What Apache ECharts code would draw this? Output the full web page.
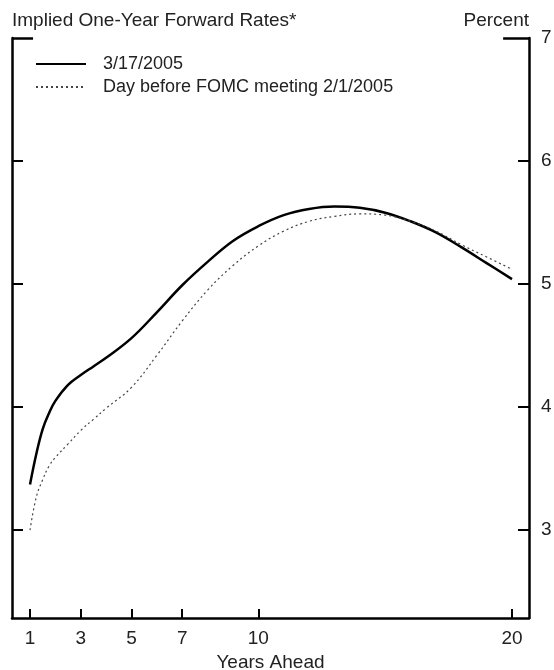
<!DOCTYPE html>
<html>
<head>
<meta charset="utf-8">
<script src="https://cdn.jsdelivr.net/npm/echarts@6/dist/echarts.min.js"></script>
<style>
html,body{margin:0;padding:0;background:#fff;}
#chart{width:554px;height:670px;}
</style>
</head>
<body>
<div id="chart"></div>
<script>
const years = [1, 1.25, 1.5, 1.75, 2, 2.5, 3, 3.5, 4, 5, 6, 7, 8, 9, 10, 11, 12, 13, 14, 15, 16, 17, 18, 19, 20];
const rates20050317 = [3.37, 3.62, 3.82, 3.95, 4.05, 4.18, 4.26, 4.33, 4.40, 4.56, 4.77, 4.99, 5.18, 5.35, 5.47, 5.56, 5.61, 5.63, 5.62, 5.58, 5.51, 5.42, 5.30, 5.17, 5.04];
const rates20050201 = [3.00, 3.27, 3.41, 3.52, 3.59, 3.70, 3.81, 3.90, 3.99, 4.16, 4.42, 4.70, 4.95, 5.15, 5.31, 5.43, 5.51, 5.55, 5.57, 5.56, 5.51, 5.43, 5.32, 5.22, 5.12];
const xTickLabels = [1, 3, 5, 7, 10, 20];
const yTickLabels = [3, 4, 5, 6, 7];
const seriesNames = ['3/17/2005', 'Day before FOMC meeting 2/1/2005'];

const xMin = 0.29, xMax = 20.67, yMin = 2.285, yMax = 7;
const font = '"Liberation Sans", Arial, Helvetica, sans-serif';
const txt = '#222';

const pairs = (xs, ys) => xs.map((x, i) => [x, ys[i]]);

const chart = echarts.init(document.getElementById('chart'), null, {renderer: 'canvas'});
chart.setOption({
  animation: false,
  backgroundColor: '#fff',
  textStyle: {fontFamily: font},
  title: [
    {text: 'Implied One-Year Forward Rates*', left: 7, top: 6,
     textStyle: {fontFamily: font, fontSize: 19, fontWeight: 'normal', color: txt}},
    {text: 'Percent', right: 20, top: 6,
     textStyle: {fontFamily: font, fontSize: 19, fontWeight: 'normal', color: txt}}
  ],
  legend: {
    left: 30, top: 50, orient: 'vertical',
    itemWidth: 50, itemHeight: 14, itemGap: 5,
    itemStyle: {opacity: 0},
    textStyle: {fontFamily: font, fontSize: 18, color: txt, padding: [0, 0, 0, 12]},
    data: seriesNames
  },
  grid: {left: 12, right: 25, top: 38, bottom: 52, containLabel: false, outerBoundsMode: 'none'},
  xAxis: {
    type: 'value', min: xMin, max: xMax,
    name: 'Years Ahead', nameLocation: 'middle', nameGap: 34,
    nameTextStyle: {fontFamily: font, fontSize: 19, color: txt},
    axisLine: {show: true, lineStyle: {color: '#000', width: 2.5}},
    axisTick: {show: true, inside: true, length: 9, lineStyle: {color: '#000', width: 2}, customValues: xTickLabels},
    axisLabel: {show: true, fontFamily: font, fontSize: 19, color: txt, margin: 11, customValues: xTickLabels},
    splitLine: {show: false}
  },
  yAxis: [
    {
      type: 'value', position: 'right', min: yMin, max: yMax,
      axisLine: {show: true, lineStyle: {color: '#000', width: 2.5}},
      axisTick: {show: true, inside: true, length: 11, lineStyle: {color: '#000', width: 2}, customValues: [3, 4, 5, 6]},
      axisLabel: {show: true, fontFamily: font, fontSize: 19, color: txt, margin: 12, customValues: yTickLabels},
      splitLine: {show: false}
    },
    {
      type: 'value', position: 'left', min: yMin, max: yMax,
      axisLine: {show: true, lineStyle: {color: '#000', width: 2.5}},
      axisTick: {show: true, inside: true, length: 11, lineStyle: {color: '#000', width: 2}, customValues: [3, 4, 5, 6]},
      axisLabel: {show: false},
      splitLine: {show: false}
    }
  ],
  series: [
    {
      name: seriesNames[0], type: 'line', yAxisIndex: 0,
      data: pairs(years, rates20050317),
      smooth: 0.4, symbol: 'none',
      lineStyle: {color: '#000', width: 2.5},
      itemStyle: {color: '#000'},
      markLine: {
        silent: true, symbol: 'none', label: {show: false},
        lineStyle: {color: '#000', width: 2.5, type: 'solid'},
        data: [
          [{coord: [xMin, yMax]}, {coord: [1.12, yMax]}],
          [{coord: [19.65, yMax]}, {coord: [xMax, yMax]}]
        ]
      }
    },
    {
      name: seriesNames[1], type: 'line', yAxisIndex: 0,
      data: pairs(years, rates20050201),
      smooth: 0.4, symbol: 'none',
      lineStyle: {color: '#444', width: 1.2, type: [2, 3]},
      itemStyle: {color: '#444'}
    }
  ]
});
</script>
</body>
</html>
